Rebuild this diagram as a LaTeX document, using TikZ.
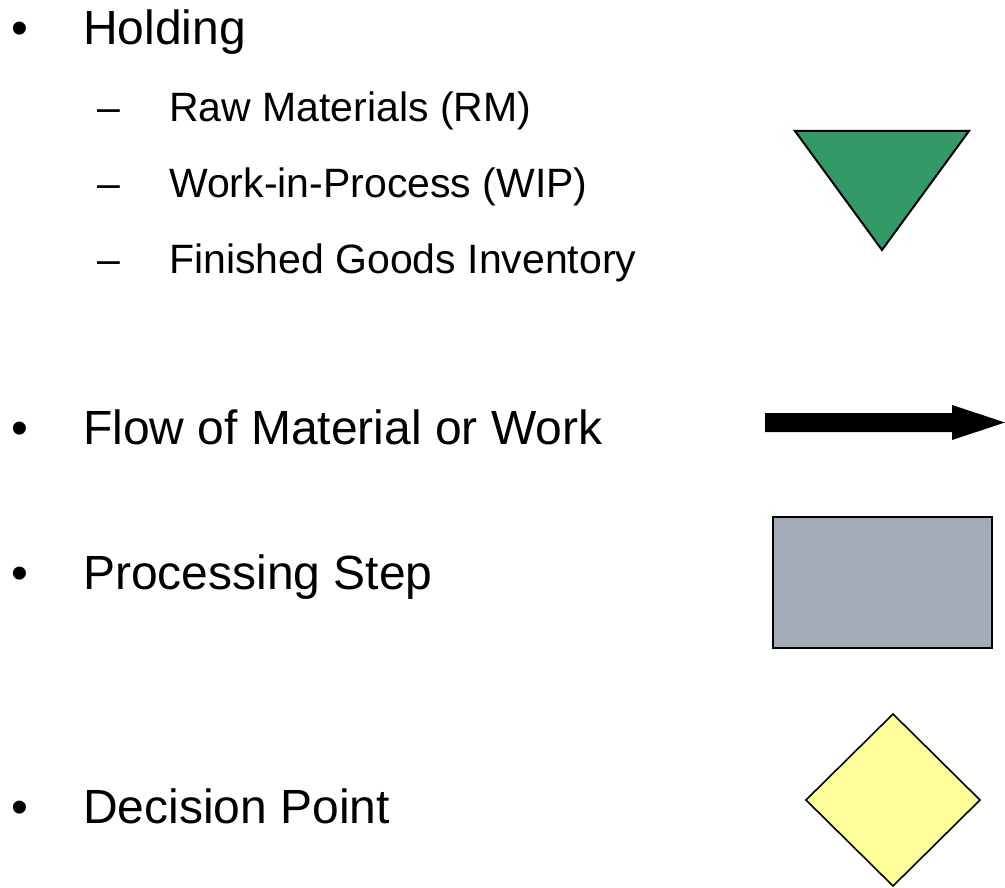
\documentclass[tikz,border=0pt]{standalone}
\usepackage{fontspec}
\setmainfont{Liberation Sans}
\begin{document}
\begin{tikzpicture}[x=1pt,y=-1pt,
  main/.style={anchor=base west,inner sep=0pt,font=\fontsize{48}{58}\selectfont},
  sub/.style={anchor=base west,inner sep=0pt,font=\fontsize{41}{50}\selectfont},
  outline/.style={draw=black,line width=2pt,line join=miter}]
\useasboundingbox (0,0) rectangle (1005,888);
\definecolor{holdgreen}{HTML}{339966}
\definecolor{stepgray}{HTML}{A3ACB6}
\definecolor{decyellow}{HTML}{FFFF99}

% bullets and main items
\node[main] (b1) at (11.5,45) {•};
\node[main] (t1) at (83,45) {Holding};
\node[main] (b2) at (11.5,444) {•};
\node[main] (t2) at (83,444) {Flow of Material or Work};
\node[main] (b3) at (11.5,589) {•};
\node[main] (t3) at (83,589) {Processing Step};
\node[main] (b4) at (11.5,823) {•};
\node[main] (t4) at (83,823) {Decision Point};

% sub items
\node[sub] (d1) at (97,122) {–};
\node[sub] (s1) at (169,122) {Raw Materials (RM)};
\node[sub] (d2) at (97,198) {–};
\node[sub] (s2) at (169,198) {Work-in-Process (WIP)};
\node[sub] (d3) at (97,273) {–};
\node[sub] (s3) at (169,273) {Finished Goods Inventory};

% holding triangle
\draw[outline,fill=holdgreen] (795,131) -- (969,131) -- (882,250) -- cycle;

% flow arrow
\fill[black] (765,413) -- (952,413) -- (952,405) -- (1005,422.5) -- (952,440) -- (952,432) -- (765,432) -- cycle;

% processing step
\draw[outline,fill=stepgray] (773,517) rectangle (992,648);

% decision point
\draw[draw=black,line width=1.6pt,fill=decyellow] (893,714) -- (980,800) -- (893,886) -- (806,800) -- cycle;
\end{tikzpicture}
\end{document}
